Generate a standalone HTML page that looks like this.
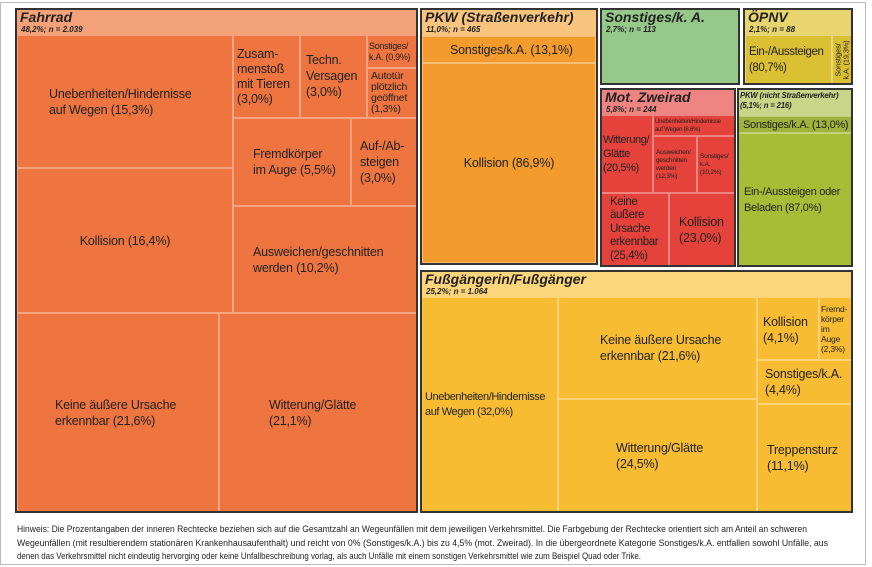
<!DOCTYPE html>
<html><head><meta charset="utf-8"><style>
body{margin:0;width:872px;height:567px;background:#fff;position:relative;overflow:hidden;font-family:"Liberation Sans",sans-serif;}
.frame{position:absolute;left:0;top:2px;width:866px;height:563px;border:1px solid #bbb;box-sizing:border-box;}
.g{position:absolute;border:2px solid #333;box-sizing:border-box;}
.c{position:absolute;box-sizing:border-box;box-shadow:inset 0 0 0 1px rgba(255,255,255,0.35);color:#222;font-size:12.5px;line-height:16px;display:flex;align-items:center;white-space:nowrap;letter-spacing:-0.2px;overflow:hidden;}
.h{position:absolute;box-sizing:border-box;color:#222;white-space:nowrap;}
.h b{display:block;font-style:italic;font-size:14px;line-height:15px;padding:2px 0 0 5px;}
.h i{display:block;font-weight:bold;font-size:8px;line-height:9px;padding-left:6px;}
</style></head><body>
<div class="frame"></div>

<!-- Fahrrad -->
<div class="h" style="left:15px;top:8px;width:402px;height:28px;background:#f4a27a"><b>Fahrrad</b><i>48,2%; n = 2.039</i></div>
<div class="c" style="left:17px;top:35px;width:216px;height:133px;background:#ee7440;padding-left:32px">Unebenheiten/Hindernisse<br>auf Wegen (15,3%)</div>
<div class="c" style="left:17px;top:168px;width:216px;height:145px;background:#ee7440;justify-content:center">Kollision (16,4%)</div>
<div class="c" style="left:17px;top:313px;width:202px;height:199px;background:#ee7440;padding-left:38px">Keine äußere Ursache<br>erkennbar (21,6%)</div>
<div class="c" style="left:219px;top:313px;width:198px;height:199px;background:#ee7440;padding-left:50px">Witterung/Glätte<br>(21,1%)</div>
<div class="c" style="left:233px;top:35px;width:67px;height:83px;background:#ee7440;padding-left:4px;line-height:15px">Zusam-<br>menstoß<br>mit Tieren<br>(3,0%)</div>
<div class="c" style="left:300px;top:35px;width:67px;height:83px;background:#ee7440;padding-left:6px;align-items:flex-start;padding-top:17px">Techn.<br>Versagen<br>(3,0%)</div>
<div class="c" style="left:367px;top:35px;width:50px;height:33px;background:#ee7440;font-size:9px;line-height:11px;padding-left:2px;letter-spacing:-0.3px">Sonstiges/<br>k.A. (0,9%)</div>
<div class="c" style="left:367px;top:68px;width:50px;height:50px;background:#ee7440;font-size:10.5px;line-height:11px;padding-left:4px">Autotür<br>plötzlich<br>geöffnet<br>(1,3%)</div>
<div class="c" style="left:233px;top:118px;width:118px;height:88px;background:#ee7440;padding-left:20px">Fremdkörper<br>im Auge (5,5%)</div>
<div class="c" style="left:351px;top:118px;width:66px;height:88px;background:#ee7440;padding-left:9px">Auf-/Ab-<br>steigen<br>(3,0%)</div>
<div class="c" style="left:233px;top:206px;width:184px;height:107px;background:#ee7440;padding-left:20px">Ausweichen/geschnitten<br>werden (10,2%)</div>
<div class="g" style="left:15px;top:8px;width:403px;height:505px"></div>

<!-- PKW -->
<div class="h" style="left:420px;top:8px;width:177px;height:28px;background:#f9c57e"><b>PKW (Straßenverkehr)</b><i>11,0%; n = 465</i></div>
<div class="c" style="left:422px;top:36px;width:174px;height:27px;background:#f39b2c;padding-left:28px">Sonstiges/k.A. (13,1%)</div>
<div class="c" style="left:422px;top:63px;width:174px;height:200px;background:#f39b2c;justify-content:center">Kollision (86,9%)</div>
<div class="g" style="left:420px;top:8px;width:178px;height:257px"></div>

<!-- Sonstiges -->
<div class="h" style="left:600px;top:8px;width:140px;height:77px;background:#96c88a"><b>Sonstiges/k. A.</b><i>2,7%; n = 113</i></div>
<div class="g" style="left:600px;top:8px;width:140px;height:77px"></div>

<!-- ÖPNV -->
<div class="h" style="left:743px;top:8px;width:110px;height:28px;background:#e9d56f"><b>ÖPNV</b><i>2,1%; n = 88</i></div>
<div class="c" style="left:745px;top:35px;width:87px;height:49px;background:#dcc034;padding-left:4px;font-size:11.5px;letter-spacing:-0.4px">Ein-/Aussteigen<br>(80,7%)</div>
<div class="c" style="left:832px;top:35px;width:20px;height:49px;background:#dcc034;justify-content:center;overflow:visible"><span style="transform:rotate(-90deg);white-space:nowrap;font-size:7.5px;line-height:8px;display:block;text-align:center">Sonstiges/<br>k.A. (19,3%)</span></div>
<div class="g" style="left:743px;top:8px;width:110px;height:77px"></div>

<!-- Mot Zweirad -->
<div class="h" style="left:600px;top:88px;width:136px;height:28px;background:#ee8582"><b>Mot. Zweirad</b><i>5,8%; n = 244</i></div>
<div class="c" style="left:601px;top:115px;width:52px;height:78px;background:#e5423b;font-size:11px;line-height:14px;padding-left:2px;letter-spacing:-0.4px">Witterung/<br>Glätte<br>(20,5%)</div>
<div class="c" style="left:653px;top:115px;width:82px;height:21px;background:#e5423b;font-size:6px;line-height:8px;padding-left:2px;letter-spacing:-0.2px">Unebenheiten/Hindernisse<br>auf Wegen (8,6%)</div>
<div class="c" style="left:653px;top:136px;width:44px;height:57px;background:#e5423b;font-size:6.5px;line-height:8px;padding-left:3px">Ausweichen/<br>geschnitten<br>werden<br>(12,3%)</div>
<div class="c" style="left:697px;top:136px;width:38px;height:57px;background:#e5423b;font-size:6.5px;line-height:8px;padding-left:3px">Sonstiges/<br>k.A.<br>(10,2%)</div>
<div class="c" style="left:601px;top:193px;width:68px;height:73px;background:#e5423b;font-size:11.5px;line-height:13.5px;padding-left:9px;letter-spacing:-0.4px">Keine<br>äußere<br>Ursache<br>erkennbar<br>(25,4%)</div>
<div class="c" style="left:669px;top:193px;width:66px;height:73px;background:#e5423b;padding-left:10px">Kollision<br>(23,0%)</div>
<div class="g" style="left:600px;top:88px;width:136px;height:179px"></div>

<!-- PKW nicht -->
<div class="h" style="left:737px;top:88px;width:116px;height:28px;background:#c9d68a"><b style="font-size:7.8px;line-height:10px;padding-top:3px;padding-left:3px;letter-spacing:-0.2px">PKW (nicht Straßenverkehr)<br>(5,1%; n = 216)</b></div>
<div class="c" style="left:738px;top:116px;width:114px;height:17px;background:#a0b33a;padding-left:5px;font-size:11px;letter-spacing:-0.3px">Sonstiges/k.A. (13,0%)</div>
<div class="c" style="left:738px;top:133px;width:114px;height:133px;background:#a7bd36;padding-left:6px;font-size:11px;letter-spacing:-0.3px">Ein-/Aussteigen oder<br>Beladen (87,0%)</div>
<div class="g" style="left:737px;top:88px;width:116px;height:179px"></div>

<!-- Fußgänger -->
<div class="h" style="left:420px;top:270px;width:433px;height:28px;background:#fdd67c"><b>Fußgängerin/Fußgänger</b><i>25,2%; n = 1.064</i></div>
<div class="c" style="left:421px;top:297px;width:137px;height:215px;background:#f7bc32;padding-left:4px;font-size:11px;line-height:15px;letter-spacing:-0.4px">Unebenheiten/Hindernisse<br>auf Wegen (32,0%)</div>
<div class="c" style="left:558px;top:297px;width:199px;height:102px;background:#f7bc32;padding-left:42px">Keine äußere Ursache<br>erkennbar (21,6%)</div>
<div class="c" style="left:558px;top:399px;width:199px;height:113px;background:#f7bc32;padding-left:58px">Witterung/Glätte<br>(24,5%)</div>
<div class="c" style="left:757px;top:297px;width:62px;height:63px;background:#f7bc32;padding-left:6px;align-items:flex-start;padding-top:17px">Kollision<br>(4,1%)</div>
<div class="c" style="left:819px;top:297px;width:33px;height:63px;background:#f7bc32;padding-left:2px;font-size:8.5px;line-height:10px">Fremd-<br>körper<br>im<br>Auge<br>(2,3%)</div>
<div class="c" style="left:757px;top:360px;width:95px;height:44px;background:#f7bc32;padding-left:8px">Sonstiges/k.A.<br>(4,4%)</div>
<div class="c" style="left:757px;top:404px;width:95px;height:108px;background:#f7bc32;padding-left:10px">Treppensturz<br>(11,1%)</div>
<div class="g" style="left:420px;top:270px;width:433px;height:243px"></div>

<svg style="position:absolute;left:0;top:0" width="872" height="567">
<g font-family="Liberation Sans, sans-serif" font-size="9.5" fill="#222">
<text x="17" y="532" textLength="790" lengthAdjust="spacingAndGlyphs">Hinweis: Die Prozentangaben der inneren Rechtecke beziehen sich auf die Gesamtzahl an Wegeunfällen mit dem jeweiligen Verkehrsmittel. Die Farbgebung der Rechtecke orientiert sich am Anteil an schweren</text>
<text x="17" y="546" textLength="811" lengthAdjust="spacingAndGlyphs">Wegeunfällen (mit resultierendem stationären Krankenhausaufenthalt) und reicht von 0% (Sonstiges/k.A.) bis zu 4,5% (mot. Zweirad). In die übergeordnete Kategorie Sonstiges/k.A. entfallen sowohl Unfälle, aus</text>
<text x="17" y="559" textLength="624" lengthAdjust="spacingAndGlyphs">denen das Verkehrsmittel nicht eindeutig hervorging oder keine Unfallbeschreibung vorlag, als auch Unfälle mit einem sonstigen Verkehrsmittel wie zum Beispiel Quad oder Trike.</text>
</g></svg>
</body></html>
